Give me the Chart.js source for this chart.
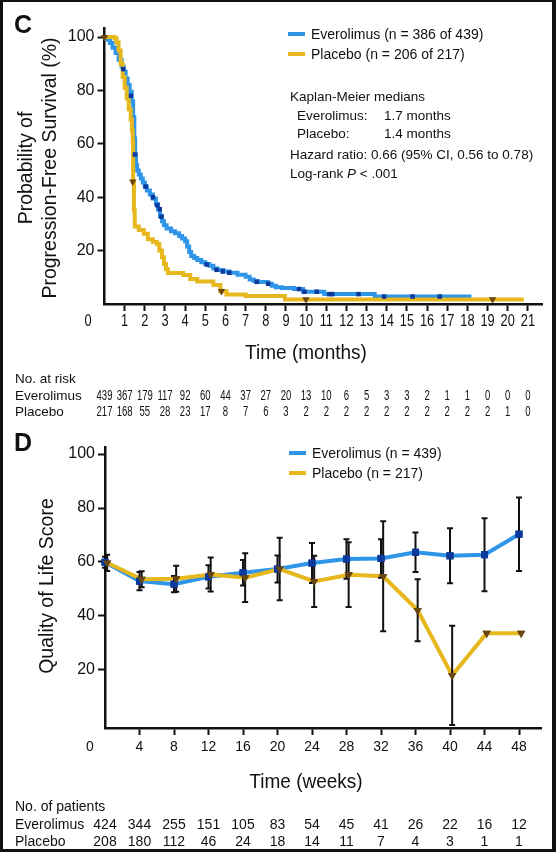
<!DOCTYPE html>
<html><head><meta charset="utf-8">
<script src="https://cdn.jsdelivr.net/npm/chart.js@4.4.1/dist/chart.umd.min.js"></script>
<style>
html,body{margin:0;padding:0;background:#fff;}
#fig{position:relative;width:556px;height:852px;overflow:hidden;font-family:"Liberation Sans",Arial,sans-serif;color:#111;background:#fff;}
#frame{position:absolute;left:0;top:0;width:556px;height:852px;box-sizing:border-box;border-style:solid;border-color:#111;border-width:2px 4px 3px 3px;pointer-events:none;z-index:5}
.t{position:absolute;white-space:nowrap;line-height:1;transform:translateY(-50%);}
.c{position:absolute;white-space:nowrap;line-height:1;transform:translate(-50%,-50%) scaleX(.95);}
.rot{position:absolute;white-space:nowrap;line-height:1;transform:translate(-50%,-50%) rotate(-90deg);}
.sw{position:absolute;height:4px;width:17px;}
canvas{position:absolute;left:0;}
</style></head>
<body><div id="fig">
<canvas id="cC" width="556" height="420" style="top:0;width:556px;height:420px"></canvas>
<canvas id="cD" width="556" height="432" style="top:420px;width:556px;height:432px"></canvas>

<div class="t" style="left:14px;top:24px;font-size:25px;font-weight:bold">C</div>
<div class="rot" style="left:26px;top:168px;font-size:19.5px">Probability of</div>
<div class="rot" style="left:50px;top:168px;font-size:19.5px">Progression-Free Survival (%)</div>
<div class="c" style="left:306px;top:352px;font-size:20px">Time (months)</div>
<div class="sw" style="left:288px;top:32px;background:#2f95e8"></div>
<div class="t" style="left:311px;top:34px;font-size:14px">Everolimus (n = 386 of 439)</div>
<div class="sw" style="left:288px;top:52px;background:#e6b81e"></div>
<div class="t" style="left:311px;top:54px;font-size:14px">Placebo (n = 206 of 217)</div>
<div class="t" style="left:290px;top:97px;font-size:13.5px">Kaplan-Meier medians</div>
<div class="t" style="left:297px;top:115.5px;font-size:13.5px">Everolimus:</div>
<div class="t" style="left:384px;top:115.5px;font-size:13.5px">1.7 months</div>
<div class="t" style="left:297px;top:133.5px;font-size:13.5px">Placebo:</div>
<div class="t" style="left:384px;top:133.5px;font-size:13.5px">1.4 months</div>
<div class="t" style="left:290px;top:155px;font-size:13.5px">Hazard ratio: 0.66 (95% CI, 0.56 to 0.78)</div>
<div class="t" style="left:290px;top:174px;font-size:13.5px">Log-rank <i>P</i> &lt; .001</div>

<div class="t" style="left:14px;top:442px;font-size:25px;font-weight:bold">D</div>
<div class="rot" style="left:47px;top:586px;font-size:19.5px">Quality of Life Score</div>
<div class="c" style="left:306px;top:781px;font-size:20px">Time (weeks)</div>
<div class="sw" style="left:289px;top:451px;background:#2f95e8"></div>
<div class="t" style="left:312px;top:453px;font-size:14px">Everolimus (n = 439)</div>
<div class="sw" style="left:289px;top:471px;background:#e6b81e"></div>
<div class="t" style="left:312px;top:473px;font-size:14px">Placebo (n = 217)</div>
<div id="frame"></div>
</div>
<script>
// ---------- Panel C data ----------
const C_X_TICKS = [1,2,3,4,5,6,7,8,9,10,11,12,13,14,15,16,17,18,19,20,21];
const C_Y_TICKS = [20,40,60,80,100];
const KM_EVE_T = [0,0.15,0.27,0.4,0.55,0.7,0.85,0.95,1.05,1.15,1.25,1.35,1.42,1.48,1.52,1.56,1.62,1.7,1.8,1.9,2.0,2.1,2.25,2.4,2.55,2.65,2.75,2.85,2.95,3.08,3.3,3.5,3.7,3.85,4.0,4.1,4.2,4.3,4.45,4.6,4.8,5.0,5.2,5.4,5.6,5.9,6.2,6.6,7.0,7.2,7.4,7.6,8.1,8.3,8.5,8.8,9.4,9.85,10.9,13.4,18.2];
const KM_EVE_S = [100,99,97.8,96,94,91.5,89,87,84.5,82,79.5,76,70,62,56,52,50,48.5,47,45.5,44,42.5,41,39.5,37.5,35.5,33,31,29.5,28.3,27.3,26.5,25.5,24.5,23.5,21.5,19.5,18,17.2,16.5,15.6,15,14.3,13.3,12.7,12.2,11.7,11.0,10.2,9.2,8.6,8.2,7.6,6.8,6.3,6.0,5.6,4.6,3.7,2.8,2.8];
const KM_PBO_T = [0,0.5,0.6,0.7,0.8,0.9,1.0,1.1,1.2,1.3,1.36,1.4,1.42,1.46,1.5,1.7,1.95,2.15,2.4,2.6,2.72,2.85,2.95,3.05,3.15,3.9,4.25,4.6,5.4,5.75,6.05,7.0,8.95,20.8];
const KM_PBO_S = [100,99.5,98,95,90,85,81,77,73,69,65,61,45.8,35,29,27.7,26.3,24.3,23.2,22.5,20,17.5,15,13,11.6,10.9,9.4,8.4,7.1,4.8,3.6,3.0,1.7,1.7];
const CENS_EVE_T = [0.93,1.31,1.51,2.04,2.4,2.62,2.74,2.82,5.07,5.56,5.86,6.19,7.55,8.12,9.65,9.92,10.53,11.15,11.3,12.6,13.87,15.28,16.63];
const CENS_EVE_S = [88,78,56,44,40,37,35.5,32.7,14.8,12.8,12.2,11.7,8.3,7.6,5.6,4.6,4.6,3.7,3.7,3.7,2.8,2.8,2.8];
const CENS_PBO_T = [0,1.4,5.8,9.99,19.25];
const CENS_PBO_S = [100,45.8,4.8,1.7,1.7];
const RISK_MONTHS = [0,1,2,3,4,5,6,7,8,9,10,11,12,13,14,15,16,17,18,19,20,21];
const RISK_EVE = [439,367,179,117,92,60,44,37,27,20,13,10,6,5,3,3,2,1,1,0,0,0];
const RISK_PBO = [217,168,55,28,23,17,8,7,6,3,2,2,2,2,2,2,2,2,2,2,1,0];

// ---------- Panel D data ----------
const D_X_TICKS = [4,8,12,16,20,24,28,32,36,40,44,48];
const D_Y_TICKS = [20,40,60,80,100];
const WEEKS = [0,4,8,12,16,20,24,28,32,36,40,44,48];
const QOL_EVE = [59.9,52.9,51.8,54.5,56.0,57.4,59.6,61.1,61.3,63.6,62.3,62.7,70.3];
const QOL_EVE_ERR = [2.0,3.4,3.0,4.3,4.7,5.0,7.4,7.3,7.1,7.3,10.2,13.5,13.6];
const QOL_PBO = [59.7,53.6,53.8,55.4,54.2,57.4,52.8,55.3,54.7,42.1,18.0,33.6,33.6];
const QOL_PBO_ERR = [3.0,3.0,4.8,6.3,9.0,11.6,9.5,12.0,20.4,11.5,18.4,null,null];
const PAT_EVE = [424,344,255,151,105,83,54,45,41,26,22,16,12];
const PAT_PBO = [208,180,112,46,24,18,14,11,7,4,3,1,1];

// ---------- styles ----------
const BLUE = '#2f95e8', YEL = '#e6b81e', NAVY = '#0b3a9c', BROWN = '#6b4710', INK = '#111';
const DODGE = 0.25;
const FONT = "'Liberation Sans', Arial, sans-serif";
const YTICK_FONT = {family:FONT, size:16};
const pts = (xs, ys, dx=0) => xs.map((x,i)=>({x:x+dx, y:ys[i]}));

function axisX(min, max, ticks, height){
  return {type:'linear', min, max,
    afterBuildTicks: s => { s.ticks = ticks.map(v=>({value:v})); },
    afterFit: s => { s.height = height; },
    ticks:{display:false, autoSkip:false, maxRotation:0},
    grid:{drawOnChartArea:false, drawTicks:true, tickLength:7, tickWidth:2, tickColor:INK},
    border:{display:true, color:INK, width:2.5}};
}
function axisY(min, max, ticks, width){
  return {type:'linear', min, max,
    afterBuildTicks: s => { s.ticks = ticks.map(v=>({value:v})); },
    afterFit: s => { s.width = width; },
    ticks:{font:YTICK_FONT, color:INK, padding:3},
    grid:{drawOnChartArea:false, drawTicks:true, tickLength:7, tickWidth:2, tickColor:INK},
    border:{display:true, color:INK, width:2.5}};
}
function condensedText(ctx, txt, x, y, sx){
  ctx.save(); ctx.translate(x, y); ctx.scale(sx, 1); ctx.fillText(txt, 0, 0); ctx.restore();
}
// x tick labels, placed by the library's x scale, drawn slightly condensed like the original
function drawXTickLabels(chart, size, sx, dy, originX){
  const ctx = chart.ctx, xs = chart.scales.x, ca = chart.chartArea;
  ctx.save();
  ctx.fillStyle = INK; ctx.textBaseline = 'middle'; ctx.textAlign = 'center';
  ctx.font = size + "px " + FONT;
  xs.ticks.forEach(t => condensedText(ctx, String(t.value), xs.getPixelForValue(t.value), ca.bottom + dy, sx));
  condensedText(ctx, '0', originX, ca.bottom + dy, sx);
  ctx.restore();
}

const cExtras = {
  id:'cExtras',
  afterDraw(chart){
    drawXTickLabels(chart, 16, 0.8, 18, 88);
    const ctx = chart.ctx, xs = chart.scales.x;
    ctx.save();
    ctx.fillStyle = INK; ctx.textBaseline = 'middle';
    ctx.textAlign = 'left'; ctx.font = "13.5px " + FONT;
    ctx.fillText('No. at risk', 15, 379);
    ctx.fillText('Everolimus', 15, 396);
    ctx.fillText('Placebo', 15, 412);
    ctx.textAlign = 'center'; ctx.font = "14px " + FONT;
    RISK_MONTHS.forEach((m,i)=>{
      const x = xs.getPixelForValue(m);
      condensedText(ctx, String(RISK_EVE[i]), x, 396, 0.68);
      condensedText(ctx, String(RISK_PBO[i]), x, 412, 0.68);
    });
    ctx.restore();
  }
};

new Chart(document.getElementById('cC'), {
  type:'line',
  data:{datasets:[
    {label:'Everolimus censored', data:pts(CENS_EVE_T, CENS_EVE_S), showLine:false, pointStyle:'rect', pointRadius:3.2, pointBackgroundColor:NAVY, pointBorderWidth:0, order:-2, clip:false},
    {label:'Placebo censored', data:pts(CENS_PBO_T, CENS_PBO_S), showLine:false, pointStyle:'triangle', pointRotation:180, pointRadius:4.3, pointBackgroundColor:BROWN, pointBorderWidth:0, order:-1, clip:false},
    {label:'Placebo', data:pts(KM_PBO_T, KM_PBO_S), stepped:true, borderColor:YEL, borderWidth:4, pointRadius:0, fill:false, order:0, clip:false},
    {label:'Everolimus', data:pts(KM_EVE_T, KM_EVE_S), stepped:true, borderColor:BLUE, borderWidth:4, pointRadius:0, fill:false, order:1, clip:false}
  ]},
  options:{responsive:false, animation:false, devicePixelRatio:1, events:[],
    layout:{padding:{left:0, right:14, top:28, bottom:0}},
    plugins:{legend:{display:false}, tooltip:{enabled:false}},
    scales:{x:axisX(0, 21.7, C_X_TICKS, 116), y:axisY(0, 103.4, C_Y_TICKS, 104.5)}
  },
  plugins:[cExtras]
});

const dExtras = {
  id:'dExtras',
  afterDatasetsDraw(chart){
    const ctx = chart.ctx, xs = chart.scales.x, ys = chart.scales.y;
    ctx.save();
    ctx.strokeStyle = INK; ctx.lineWidth = 2;
    chart.data.datasets.forEach(ds=>{
      if(!ds.errorBars) return;
      ds.data.forEach((p,i)=>{
        const e = ds.errorBars[i]; if(e == null) return;
        const x = xs.getPixelForValue(p.x);
        const yt = ys.getPixelForValue(p.y + e);
        const lowVal = p.y - e, lowIn = lowVal >= ys.min;
        const yb = ys.getPixelForValue(lowIn ? lowVal : ys.min);
        ctx.beginPath(); ctx.moveTo(x, yt); ctx.lineTo(x, yb);
        ctx.moveTo(x-3, yt); ctx.lineTo(x+3, yt);
        if(lowIn){ ctx.moveTo(x-3, yb); ctx.lineTo(x+3, yb); }
        ctx.stroke();
      });
    });
    ctx.restore();
    // markers on top of the error bars
    const metas = chart.getSortedVisibleDatasetMetas().slice().reverse();
    metas.forEach(meta=> meta.data.forEach(pt=> pt.draw(ctx, chart.chartArea)));
  },
  afterDraw(chart){
    drawXTickLabels(chart, 15.5, 0.9, 19, 90);
    const ctx = chart.ctx, xs = chart.scales.x;
    ctx.save();
    ctx.fillStyle = INK; ctx.textBaseline = 'middle';
    ctx.textAlign = 'left'; ctx.font = "14px " + FONT;
    ctx.fillText('No. of patients', 15, 387);
    ctx.fillText('Everolimus', 15, 405);
    ctx.fillText('Placebo', 15, 422);
    ctx.textAlign = 'center';
    WEEKS.forEach((w,i)=>{
      const x = xs.getPixelForValue(w);
      ctx.fillText(String(PAT_EVE[i]), x, 405);
      ctx.fillText(String(PAT_PBO[i]), x, 422);
    });
    ctx.restore();
  }
};

new Chart(document.getElementById('cD'), {
  type:'line',
  data:{datasets:[
    {label:'Placebo', data:pts(WEEKS, QOL_PBO, DODGE), errorBars:QOL_PBO_ERR, borderColor:YEL, borderWidth:4, tension:0,
     pointStyle:'triangle', pointRotation:180, pointRadius:4.8, pointBackgroundColor:BROWN, pointBorderWidth:0, order:0, clip:false},
    {label:'Everolimus', data:pts(WEEKS, QOL_EVE), errorBars:QOL_EVE_ERR, borderColor:BLUE, borderWidth:4, tension:0,
     pointStyle:'rect', pointRadius:5, pointBackgroundColor:NAVY, pointBorderWidth:0, order:1, clip:false}
  ]},
  options:{responsive:false, animation:false, devicePixelRatio:1, events:[],
    layout:{padding:{left:0, right:15, top:27, bottom:0}},
    plugins:{legend:{display:false}, tooltip:{enabled:false}},
    scales:{x:axisX(0, 50.55, D_X_TICKS, 124), y:axisY(-1.5, 102.6, D_Y_TICKS, 105)}
  },
  plugins:[dExtras]
});
</script>
</body></html>
